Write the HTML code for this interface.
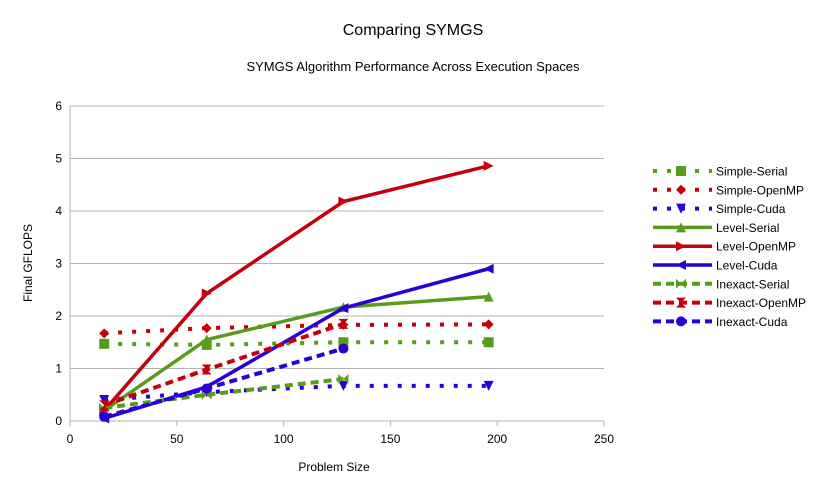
<!DOCTYPE html>
<html><head><meta charset="utf-8"><style>
body{margin:0;background:#fff;font-family:"Liberation Sans",sans-serif}
svg text{font-family:"Liberation Sans",sans-serif}
</style></head><body>
<svg id="c" width="826" height="493">
<text x="413" y="35" text-anchor="middle" font-size="16">Comparing SYMGS</text>
<text x="413" y="71" text-anchor="middle" font-size="13">SYMGS Algorithm Performance Across Execution Spaces</text>
<text x="0" y="0" transform="translate(32,263) rotate(-90)" text-anchor="middle" font-size="12">Final GFLOPS</text>
<text x="334" y="471" text-anchor="middle" font-size="12">Problem Size</text>
<g id="grid"></g><g id="series"></g><g id="legend"></g>
</svg>
<script>
const xTicks=[0,50,100,150,200,250];
const yTicks=[0,1,2,3,4,5,6];
const names=["Simple-Serial","Simple-OpenMP","Simple-Cuda","Level-Serial","Level-OpenMP","Level-Cuda","Inexact-Serial","Inexact-OpenMP","Inexact-Cuda"];
const sizes=[16,64,128,196];
const simpleSerial=[1.47,1.45,1.5,1.5];
const simpleOpenMP=[1.67,1.77,1.83,1.84];
const simpleCuda=[0.4,0.55,0.67,0.67];
const levelSerial=[0.2,1.55,2.17,2.37];
const levelOpenMP=[0.2,2.43,4.18,4.86];
const levelCuda=[0.05,0.65,2.15,2.9];
const inexactSerial=[0.25,0.5,0.8];
const inexactOpenMP=[0.3,0.98,1.85];
const inexactCuda=[0.08,0.62,1.38];
const data=[simpleSerial,simpleOpenMP,simpleCuda,levelSerial,levelOpenMP,levelCuda,inexactSerial,inexactOpenMP,inexactCuda];
const G="#579d1c",R="#c5000b",B="#2a00d6";
const colors=[G,R,B,G,R,B,G,R,B];
const markers=["square","diamond","down","up","right","left","bowtie","hourglass","circle"];
const x0=70,x1=604,y0=421,y1=106;
const xs=v=>x0+(v-0)/250*(x1-x0);
const ys=v=>y0-(v/6)*(y0-y1);
const NS="http://www.w3.org/2000/svg";
function mk(t,a,p){const e=document.createElementNS(NS,t);for(const k in a)e.setAttribute(k,a[k]);p.appendChild(e);return e;}
const grid=document.getElementById('grid');
yTicks.forEach(t=>{
 const l=mk('line',{x1:x0,x2:x1,y1:ys(t),y2:ys(t),stroke:'#b3b3b3','stroke-width':1},grid);
 
 
 const tx=mk('text',{x:x0-8,y:ys(t)+4,'text-anchor':'end','font-size':12},grid);tx.textContent=t;
 
 
});
mk('line',{x1:x0,x2:x0,y1:y1,y2:y0+5,stroke:'#b3b3b3'},grid);
xTicks.forEach(t=>{
 mk('line',{x1:xs(t),x2:xs(t),y1:y0,y2:y0+5,stroke:'#b3b3b3'},grid);
 const tx=mk('text',{x:xs(t),y:y0+22,'text-anchor':'middle','font-size':12},grid);tx.textContent=t;
 
 
});
function styleFor(i){
 if(i<3)return {'stroke-width':4,'stroke-dasharray':'4,10'};
 if(i<6)return {'stroke-width':3.5};
 return {'stroke-width':4,'stroke-dasharray':'8,5'};
}
function marker(type,cx,cy,c,p){
 const s=5;let e;
 if(type=='square')e=mk('rect',{x:cx-s,y:cy-s,width:2*s,height:2*s,fill:c},p);
 else if(type=='circle')e=mk('circle',{cx:cx,cy:cy,r:s,fill:c},p);
 else{
  let pts;
  if(type=='diamond')pts=[[0,-s],[s,0],[0,s],[-s,0]];
  if(type=='down')pts=[[-s,-s],[s,-s],[0,s]];
  if(type=='up')pts=[[-s,s],[s,s],[0,-s]];
  if(type=='right')pts=[[-s,-s],[-s,s],[s,0]];
  if(type=='left')pts=[[s,-s],[s,s],[-s,0]];
  if(type=='bowtie')pts=[[-s,-s],[s,s],[s,-s],[-s,s]];
  if(type=='hourglass')pts=[[-s,-s],[s,-s],[-s,s],[s,s]];
  e=mk('polygon',{points:pts.map(q=>(cx+q[0])+','+(cy+q[1])).join(' '),fill:c},p);
 }
 return e;
}
const ser=document.getElementById('series');
data.forEach((arr,i)=>{
 const g=mk('g',{},ser);
 
 
 const pts=arr.map((v,j)=>xs(sizes[j])+','+ys(v)).join(' ');
 const pl=mk('polyline',Object.assign({points:pts,fill:'none',stroke:colors[i]},styleFor(i)),g);
 
 
 arr.forEach((v,j)=>{
  const m=marker(markers[i],xs(sizes[j]),ys(v),colors[i],g);
  
  
 });
});
const leg=document.getElementById('legend');
names.forEach((n,i)=>{
 const y=171+i*18.8;
 const g=mk('g',{},leg);
 
 
 mk('line',Object.assign({x1:653,x2:712,y1:y,y2:y,stroke:colors[i]},styleFor(i)),g);
 marker(markers[i],681,y,colors[i],g);
 const t=mk('text',{x:716,y:y+4.5,'font-size':12},g);t.textContent=n;
});
</script>
</body></html>
